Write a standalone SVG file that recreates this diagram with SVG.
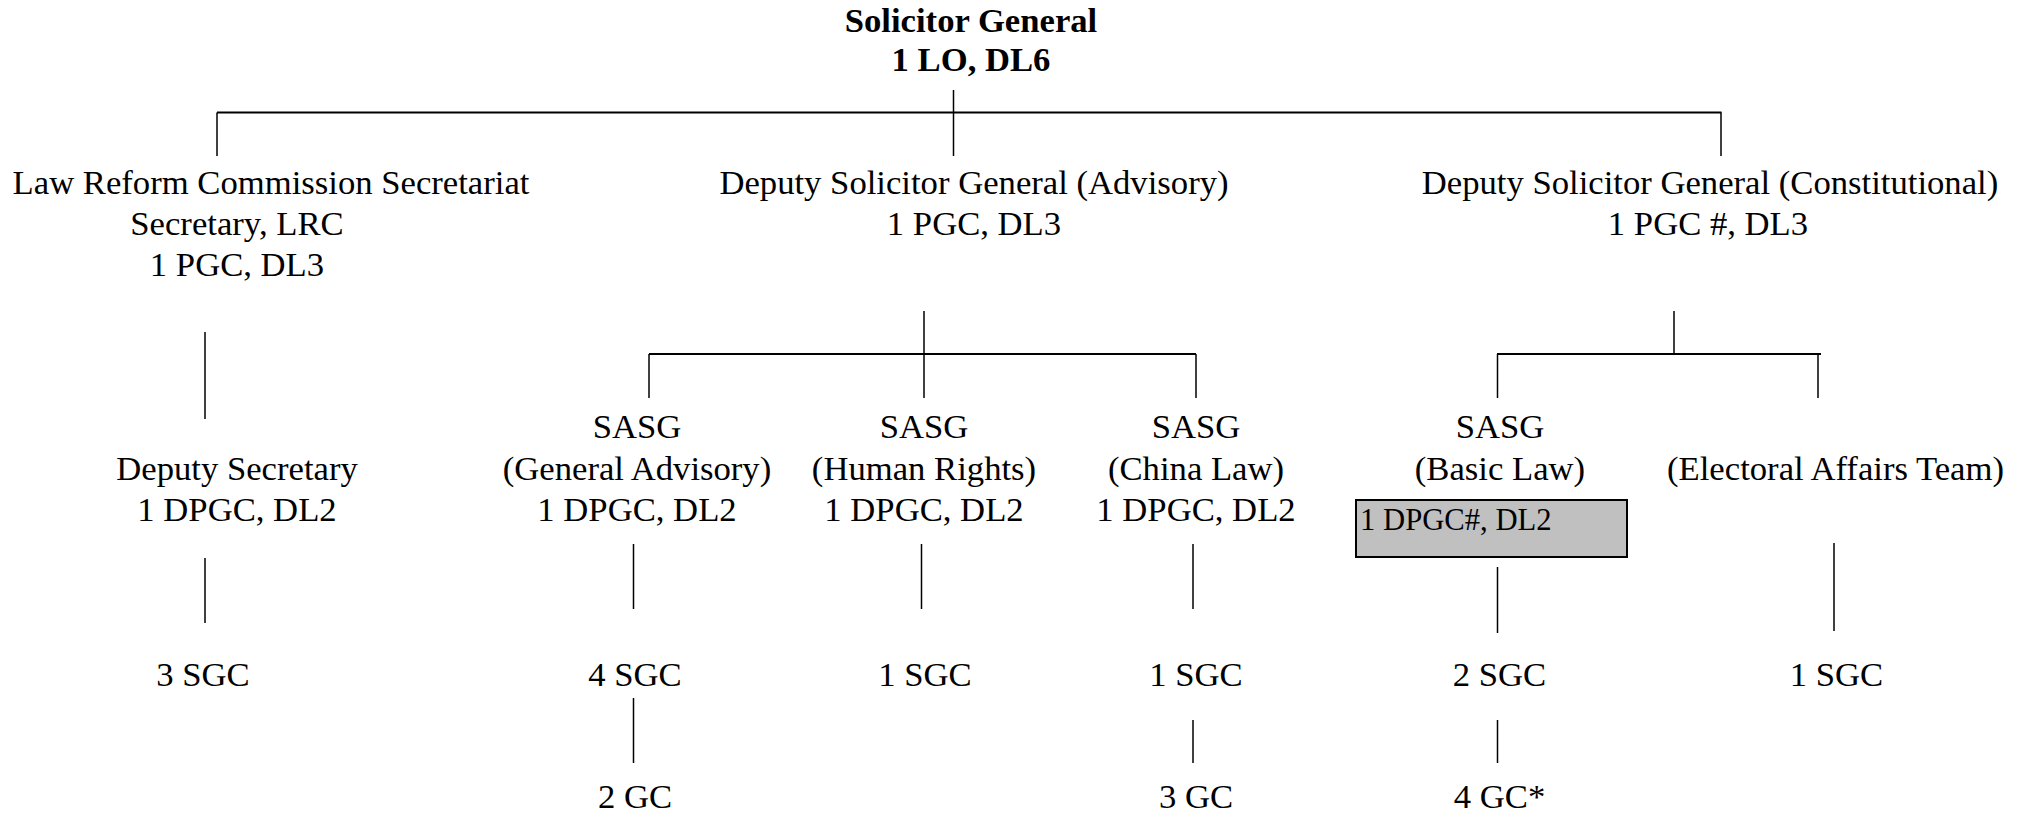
<svg xmlns="http://www.w3.org/2000/svg" width="2028" height="813" viewBox="0 0 2028 813">
<style>
text{font-family:"Liberation Serif","Times New Roman",serif;font-size:34.67px;fill:#000;text-anchor:middle}
.b{font-weight:bold}
.l{text-anchor:start;font-size:30.67px}
.c line{stroke:#000;stroke-width:1.5}
.c line.h{stroke-width:2}
.box{fill:#c0c0c0;stroke:#000;stroke-width:2}
</style>
<rect width="2028" height="813" fill="#fff"/>
<g id="connectors" class="c">
<line x1="953.5" y1="90" x2="953.5" y2="156"/>
<line class="h" x1="217" y1="112.5" x2="1721.5" y2="112.5"/>
<line x1="217" y1="112.5" x2="217" y2="156"/>
<line x1="1721" y1="112.5" x2="1721" y2="156"/>
<line x1="205" y1="332" x2="205" y2="419"/>
<line x1="205" y1="558" x2="205" y2="623"/>
<line x1="924" y1="311" x2="924" y2="398"/>
<line class="h" x1="649" y1="354" x2="1196" y2="354"/>
<line x1="649" y1="354" x2="649" y2="398"/>
<line x1="1196" y1="354" x2="1196" y2="398"/>
<line x1="1674" y1="311" x2="1674" y2="354"/>
<line class="h" x1="1497" y1="354" x2="1821" y2="354"/>
<line x1="1497.5" y1="354" x2="1497.5" y2="398"/>
<line x1="1818" y1="354" x2="1818" y2="398"/>
<line x1="633.5" y1="544" x2="633.5" y2="609"/>
<line x1="921.5" y1="544" x2="921.5" y2="609"/>
<line x1="1193" y1="544" x2="1193" y2="609"/>
<line x1="1497.5" y1="567" x2="1497.5" y2="633"/>
<line x1="1834" y1="543" x2="1834" y2="631"/>
<line x1="633.5" y1="698" x2="633.5" y2="763"/>
<line x1="1193" y1="720" x2="1193" y2="763"/>
<line x1="1497.5" y1="720" x2="1497.5" y2="763"/>
</g>
<g id="sg"><text class="b" x="971" y="32">Solicitor General</text><text class="b" x="971" y="71">1 LO, DL6</text></g>
<g id="lrc"><text x="271" y="194">Law Reform Commission Secretariat</text><text x="237" y="235">Secretary, LRC</text><text x="237" y="276">1 PGC, DL3</text></g>
<g id="dsg-adv"><text x="974" y="194">Deputy Solicitor General (Advisory)</text><text x="974" y="235">1 PGC, DL3</text></g>
<g id="dsg-con"><text x="1710" y="194">Deputy Solicitor General (Constitutional)</text><text x="1708" y="235">1 PGC #, DL3</text></g>
<g id="dep-sec"><text x="237" y="480">Deputy Secretary</text><text x="237" y="521">1 DPGC, DL2</text></g>
<g id="sasg-ga"><text x="637" y="438">SASG</text><text x="637" y="480">(General Advisory)</text><text x="637" y="521">1 DPGC, DL2</text></g>
<g id="sasg-hr"><text x="924" y="438">SASG</text><text x="924" y="480">(Human Rights)</text><text x="924" y="521">1 DPGC, DL2</text></g>
<g id="sasg-cl"><text x="1196" y="438">SASG</text><text x="1196" y="480">(China Law)</text><text x="1196" y="521">1 DPGC, DL2</text></g>
<g id="sasg-bl"><text x="1500" y="438">SASG</text><text x="1500" y="480">(Basic Law)</text><rect class="box" x="1356" y="500" width="271" height="57"/><text class="l" x="1360" y="530">1 DPGC#, DL2</text></g>
<g id="eat"><text x="1835.5" y="480">(Electoral Affairs Team)</text></g>
<g id="sgc-lrc"><text x="203" y="686">3 SGC</text></g>
<g id="sgc-ga"><text x="635" y="686">4 SGC</text></g>
<g id="sgc-hr"><text x="925" y="686">1 SGC</text></g>
<g id="sgc-cl"><text x="1196" y="686">1 SGC</text></g>
<g id="sgc-bl"><text x="1499.5" y="686">2 SGC</text></g>
<g id="sgc-eat"><text x="1836.5" y="686">1 SGC</text></g>
<g id="gc-ga"><text x="635" y="808">2 GC</text></g>
<g id="gc-cl"><text x="1196" y="808">3 GC</text></g>
<g id="gc-bl"><text x="1499.5" y="808">4 GC*</text></g>
</svg>
